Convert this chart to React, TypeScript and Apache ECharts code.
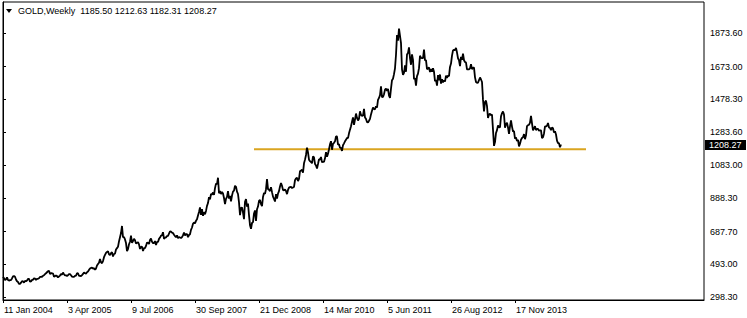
import React, { useEffect, useRef } from "react";
import * as echarts from "echarts";

// Weekly closes of GOLD, one value per weekly bar
const gold2004 = [418, 411, 400, 403, 415, 400, 396, 399, 399, 409, 421, 423, 419, 403, 392, 388, 377, 376, 384, 393, 392, 384, 394, 393, 397, 406, 407, 390, 391, 400, 401, 410, 408, 400, 406, 407, 410, 418, 419, 419, 425, 428, 435, 440, 446, 452, 455, 436, 440, 440, 438];
const gold2005 = [420, 423, 427, 423, 415, 421, 426, 435, 432, 444, 434, 427, 428, 424, 428, 435, 435, 428, 420, 419, 418, 424, 426, 440, 439, 425, 424, 423, 429, 436, 445, 440, 438, 446, 450, 460, 468, 472, 473, 468, 470, 461, 468, 486, 495, 503, 525, 505, 500, 513];
const gold2006 = [536, 550, 561, 567, 571, 553, 548, 560, 566, 540, 555, 557, 582, 590, 598, 630, 655, 680, 722, 655, 655, 642, 620, 572, 584, 613, 628, 665, 622, 632, 646, 637, 618, 622, 625, 612, 585, 598, 599, 573, 590, 590, 603, 623, 621, 615, 638, 647, 628, 620, 620, 632];
const gold2007 = [608, 627, 627, 645, 653, 665, 666, 685, 645, 652, 654, 662, 663, 677, 690, 688, 682, 680, 670, 662, 655, 666, 650, 656, 653, 650, 656, 666, 683, 666, 673, 674, 655, 668, 673, 699, 713, 735, 743, 738, 753, 762, 784, 806, 833, 788, 823, 783, 804, 792, 812, 842];
const gold2008 = [859, 894, 881, 913, 909, 922, 907, 948, 975, 972, 1010, 917, 930, 913, 925, 916, 889, 853, 884, 896, 930, 886, 901, 869, 904, 927, 933, 962, 956, 927, 913, 863, 787, 829, 833, 802, 763, 866, 883, 837, 856, 787, 727, 705, 740, 745, 797, 815, 753, 822, 838, 872];
const gold2009 = [878, 853, 841, 895, 919, 914, 942, 1002, 942, 939, 930, 953, 924, 897, 884, 868, 912, 886, 915, 930, 958, 979, 962, 937, 934, 940, 931, 912, 937, 951, 954, 956, 948, 952, 955, 995, 1006, 1010, 990, 1003, 1050, 1052, 1058, 1040, 1096, 1118, 1146, 1190, 1161, 1118, 1109, 1104];
const gold2010 = [1096, 1138, 1131, 1092, 1083, 1065, 1092, 1120, 1118, 1134, 1102, 1105, 1105, 1126, 1162, 1136, 1153, 1180, 1209, 1228, 1177, 1212, 1218, 1227, 1257, 1256, 1208, 1210, 1189, 1188, 1170, 1204, 1215, 1227, 1236, 1248, 1246, 1275, 1297, 1317, 1345, 1370, 1326, 1357, 1393, 1367, 1352, 1362, 1406, 1385, 1379, 1380, 1421];
const gold2011 = [1369, 1361, 1342, 1340, 1350, 1361, 1388, 1409, 1429, 1421, 1418, 1437, 1429, 1474, 1486, 1503, 1556, 1491, 1492, 1508, 1536, 1542, 1529, 1540, 1500, 1486, 1542, 1592, 1601, 1628, 1663, 1744, 1862, 1828, 1900, 1857, 1813, 1657, 1624, 1636, 1681, 1642, 1745, 1755, 1788, 1724, 1684, 1746, 1713, 1598, 1605, 1560];
const gold2012 = [1616, 1631, 1664, 1738, 1725, 1724, 1724, 1774, 1710, 1712, 1658, 1662, 1668, 1641, 1659, 1642, 1663, 1642, 1586, 1593, 1560, 1622, 1591, 1626, 1572, 1598, 1579, 1591, 1584, 1619, 1605, 1620, 1616, 1671, 1691, 1739, 1769, 1773, 1772, 1785, 1757, 1723, 1711, 1676, 1731, 1714, 1751, 1711, 1701, 1697, 1657, 1656];
const gold2013 = [1656, 1662, 1687, 1658, 1667, 1667, 1609, 1581, 1576, 1578, 1592, 1608, 1596, 1581, 1476, 1406, 1462, 1470, 1437, 1367, 1386, 1392, 1383, 1387, 1297, 1200, 1223, 1277, 1294, 1322, 1310, 1312, 1376, 1395, 1405, 1387, 1308, 1332, 1338, 1310, 1272, 1316, 1352, 1315, 1286, 1288, 1244, 1250, 1229, 1236, 1197, 1213];
const gold2014 = [1237, 1247, 1252, 1270, 1240, 1263, 1318, 1323, 1326, 1339, 1379, 1335, 1293, 1303, 1318, 1294, 1302, 1302, 1290, 1293, 1292, 1246, 1252, 1274, 1316, 1316, 1320, 1337, 1310, 1307, 1294, 1309, 1305, 1280, 1287, 1268, 1231, 1216, 1216, 1192, 1208.27];

// Bar index of each date label, and the labels
const xTickIndex = [0, 64, 128, 192, 256, 320, 384, 448, 512];
const xTickLabels = ["11 Jan 2004", "3 Apr 2005", "9 Jul 2006", "30 Sep 2007", "21 Dec 2008", "14 Mar 2010", "5 Jun 2011", "26 Aug 2012", "17 Nov 2013"];
// Price scale labels
const yTickValues = [298.3, 493.0, 687.7, 888.3, 1083.0, 1283.6, 1478.3, 1673.0, 1873.6];

// Horizontal support line: [start bar, end bar], price
const supportBars = [251, 583];
const supportPrice = 1180;

const titleSymbol = "GOLD,Weekly";
const titleOHLC = ["1185.50", "1212.63", "1182.31", "1208.27"];

const FONT = "Liberation Sans, Arial, sans-serif";

export default function App() {
  const ref = useRef<HTMLDivElement>(null);
  useEffect(() => {
    document.body.style.margin = "0";
    const chart = echarts.init(ref.current!, undefined, { renderer: "svg" });
    const closes = [
      ...gold2004, ...gold2005, ...gold2006, ...gold2007, ...gold2008, ...gold2009,
      ...gold2010, ...gold2011, ...gold2012, ...gold2013, ...gold2014,
    ];
    const lineData = closes.map((v, i) => [i, v]);
    const lastValue = closes[closes.length - 1];

    chart.setOption({
      animation: false,
      backgroundColor: "#ffffff",
      grid: {
        left: 3, right: 43, top: 2, bottom: 18,
        show: true, borderColor: "#000", borderWidth: 1, backgroundColor: "transparent",
      },
      xAxis: {
        type: "value", min: 0, max: 701, interval: 64,
        axisLine: { show: true, lineStyle: { color: "#000", width: 1 } },
        splitLine: { show: false },
        axisTick: { show: true, customValues: xTickIndex, length: 3, lineStyle: { color: "#000" } },
        axisLabel: {
          customValues: xTickIndex,
          formatter: (v: number) => {
            const k = xTickIndex.indexOf(Math.round(v));
            return k >= 0 ? xTickLabels[k] : "";
          },
          align: "left", margin: 5, fontSize: 9, fontFamily: FONT, color: "#000", padding: [0, 0, 0, 1],
        },
      },
      yAxis: {
        type: "value", position: "right", min: 280.4, max: 2058.6, scale: true,
        axisLine: { show: true, lineStyle: { color: "#000", width: 1 } },
        splitLine: { show: false },
        axisTick: { show: true, customValues: yTickValues, length: 3, lineStyle: { color: "#000" } },
        axisLabel: {
          customValues: yTickValues,
          formatter: (v: number) => v.toFixed(2),
          margin: 6, fontSize: 9, fontFamily: FONT, color: "#000",
        },
      },
      series: [
        {
          type: "line", data: lineData, showSymbol: false, symbol: "none",
          lineStyle: { color: "#000", width: 1.8 }, z: 3,
        },
        {
          type: "line", data: supportBars.map((b) => [b, supportPrice]), showSymbol: false, symbol: "none",
          lineStyle: { color: "#DAA520", width: 2 }, z: 2,
        },
      ],
    });

    const yLast = chart.convertToPixel({ yAxisIndex: 0 }, lastValue) as number;
    chart.setOption({
      graphic: [
        { type: "polygon", shape: { points: [[6, 9], [12, 9], [9, 13]] }, style: { fill: "#000" } },
        {
          type: "text", x: 18, y: 11,
          style: {
            text: titleSymbol + "  " + titleOHLC.join(" "),
            fontSize: 9, fontFamily: FONT, fill: "#000", verticalAlign: "middle", align: "left",
          },
        },
        { type: "rect", shape: { x: 705, y: Math.round(yLast) - 5, width: 41, height: 10 }, style: { fill: "#000" }, z: 10 },
        {
          type: "text", x: 709, y: Math.round(yLast),
          style: { text: lastValue.toFixed(2), fontSize: 9, fontFamily: FONT, fill: "#fff", verticalAlign: "middle", align: "left" },
          z: 11,
        },
      ],
    });

    return () => chart.dispose();
  }, []);
  return <div ref={ref} style={{ width: 747, height: 318 }} />;
}
